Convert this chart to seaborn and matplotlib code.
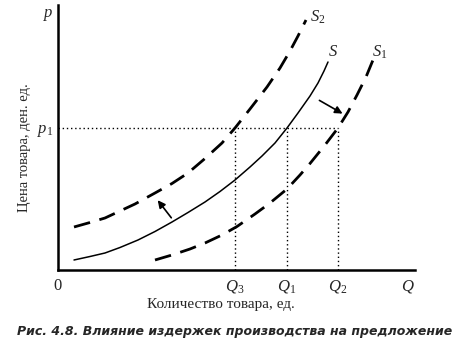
import matplotlib
matplotlib.use("Agg")
import matplotlib.pyplot as plt
import seaborn as sns
import pandas as pd

# Значения кривых (условные единицы)
s_q = [16, 32, 47, 62, 80, 97, 114, 130, 147, 162, 177, 192, 204, 217, 229,
       240, 252, 260, 266, 270]
s_p = [10, 13.5, 17, 22.5, 30, 38.5, 48, 57.5, 68, 78.5, 90, 103, 114, 127,
       142, 157, 174, 187, 199, 208]

s2_q = [16, 32, 47, 62, 77, 97, 114, 130, 147, 164, 177, 192, 209, 222, 232,
        240, 248]
s2_p = [43, 47.5, 52, 59, 66, 77, 86.5, 97, 111.5, 127, 142, 161, 183, 202,
        219, 234, 250]

s1_q = [97, 114, 132, 147, 164, 179, 197, 212, 229, 242, 252, 267, 280, 290,
        299, 308, 315]
s1_p = [10, 15, 21, 27, 35, 43.5, 56, 67, 81, 95, 106.5, 125, 142, 158, 175,
        193, 210]

q3, q1, q2 = 177, 229, 280
p1 = 142
q_max, p_max = 357, 265

x_ticks = [0, q3, q1, q2, 350]
x_tick_labels = ["0", "$Q_3$", "$Q_1$", "$Q_2$", "$Q$"]
y_ticks = [p1, 258]
y_tick_labels = ["$p_1$", "$p$"]

curve_names = ["$S_2$", "$S$", "$S_1$"]

sns.set_style("white")
plt.rcParams["font.family"] = ["Liberation Serif", "DejaVu Serif"]
plt.rcParams["mathtext.fontset"] = "custom"
plt.rcParams["mathtext.it"] = "Liberation Serif:italic"
plt.rcParams["mathtext.rm"] = "Liberation Serif"

W, H = 471, 355
fig = plt.figure(figsize=(W / 100, H / 100), dpi=100)
ax = fig.add_axes([58 / W, (H - 270) / H, 357 / W, 265 / H])

df_s = pd.DataFrame({"q": s_q, "p": s_p})
df_s1 = pd.DataFrame({"q": s1_q, "p": s1_p})
df_s2 = pd.DataFrame({"q": s2_q, "p": s2_p})

sns.lineplot(data=df_s, x="q", y="p", ax=ax, color="black", lw=1.1,
             estimator=None, sort=False)
sns.lineplot(data=df_s2, x="q", y="p", ax=ax, color="black", lw=2,
             linestyle=(0, (6, 3.5)), estimator=None, sort=False)
sns.lineplot(data=df_s1, x="q", y="p", ax=ax, color="black", lw=2,
             linestyle=(0, (6, 3.5)), estimator=None, sort=False)

# пунктирные направляющие
dot = dict(color="black", lw=1, linestyle=(0, (1, 2)))
ax.plot([0, q2], [p1, p1], **dot)
for q in (q3, q1, q2):
    ax.plot([q, q], [0, p1], **dot)

# стрелки сдвига
arr = dict(arrowstyle="-|>", color="black", lw=1.2, mutation_scale=11)
ax.annotate("", xy=(287, 155), xytext=(259, 171), arrowprops=arr)
ax.annotate("", xy=(98, 72), xytext=(115, 50), arrowprops=arr)

# подписи кривых
for name, (qx, py) in zip(curve_names, [(260, 253), (275, 218), (322, 218)]):
    ax.text(qx, py, name, fontsize=12, ha="center", va="center")

ax.set_xlim(0, q_max)
ax.set_ylim(0, p_max)
ax.set_xticks(x_ticks)
ax.set_xticklabels(x_tick_labels, fontsize=12)
ax.set_yticks(y_ticks)
ax.set_yticklabels(y_tick_labels, fontsize=12)
ax.tick_params(length=0)
ax.tick_params(axis="x", pad=6)
ax.tick_params(axis="y", pad=3)

sns.despine(ax=ax)
for side in ("left", "bottom"):
    ax.spines[side].set_linewidth(1.8)
    ax.spines[side].set_color("black")

ax.set_xlabel("Количество товара, ед.", fontsize=11)
ax.set_ylabel("Цена товара, ден. ед.", fontsize=10.5)
ax.xaxis.set_label_coords(0.457, -0.105)
ax.yaxis.set_label_coords(-0.075, 0.46)

fig.text(235 / W, 1 - 332 / H,
         "Рис. 4.8. Влияние издержек производства на предложение",
         fontsize=9, fontweight="bold", fontstyle="italic",
         family=["DejaVu Sans"], ha="center", va="center")

fig.savefig("out.png", dpi=100)
